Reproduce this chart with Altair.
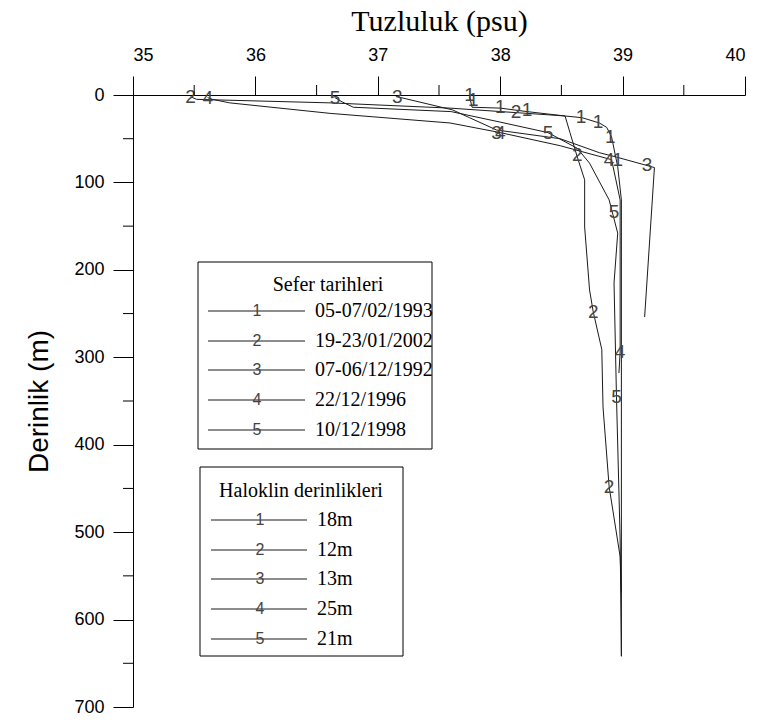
import altair as alt
import pandas as pd

# ---------------- data ----------------
profile_ids = ["1", "2", "3", "4", "5"]
cruise_dates = ["05-07/02/1993", "19-23/01/2002", "07-06/12/1992", "22/12/1996", "10/12/1998"]
halocline_depths = ["18m", "12m", "13m", "25m", "21m"]

p1_sal = [37.75, 37.77, 38.00, 38.22, 38.53, 38.67, 38.81, 38.87, 38.91, 38.96, 38.99, 38.99]
p1_dep = [2, 14, 15, 19, 24, 26, 32, 37, 48, 82, 120, 642]
p2_sal = [35.47, 35.52, 36.61, 37.59, 38.53, 38.57, 38.63, 38.69, 38.69, 38.73, 38.76, 38.83, 38.84, 38.89, 38.98, 38.99]
p2_dep = [2, 5, 9, 15, 24, 43, 71, 97, 151, 223, 248, 291, 357, 448, 528, 569]
p3_sal = [37.16, 37.61, 37.75, 37.97, 38.49, 38.81, 38.95, 39.26, 39.18]
p3_dep = [2, 17, 26, 40, 50, 66, 71, 83, 254]
p4_sal = [35.61, 35.65, 35.79, 36.61, 37.59, 38.00, 38.49, 38.91, 38.98, 38.98, 38.97]
p4_dep = [3, 5, 9, 21, 32, 43, 58, 74, 120, 294, 318]
p5_sal = [36.65, 36.71, 36.80, 37.60, 38.00, 38.39, 38.63, 38.73, 38.89, 38.96, 38.93, 38.95, 38.98, 38.99]
p5_dep = [3, 8, 14, 19, 31, 43, 61, 78, 120, 158, 215, 345, 509, 642]

# label (symbol) positions along each profile
l1_sal = [37.75, 37.78, 38.00, 38.22, 38.66, 38.80, 38.90, 38.96]
l1_dep = [0, 6, 14, 17, 25, 31, 48, 74]
l2_sal = [35.47, 38.13, 38.63, 38.76, 38.89]
l2_dep = [2, 19, 69, 248, 448]
l3_sal = [37.16, 37.97, 39.20]
l3_dep = [2, 43, 80]
l4_sal = [35.61, 38.00, 38.89, 38.98]
l4_dep = [3, 43, 74, 294]
l5_sal = [36.65, 38.39, 38.93, 38.95]
l5_dep = [3, 43, 134, 345]

x_major = [35, 36, 37, 38, 39, 40]
x_minor = [35.5, 36.5, 37.5, 38.5, 39.5]
y_major = [0, 100, 200, 300, 400, 500, 600, 700]
y_minor = [50, 150, 250, 350, 450, 550, 650]

# ---------------- tables ----------------
profiles = [(p1_sal, p1_dep), (p2_sal, p2_dep), (p3_sal, p3_dep), (p4_sal, p4_dep), (p5_sal, p5_dep)]
labels = [(l1_sal, l1_dep), (l2_sal, l2_dep), (l3_sal, l3_dep), (l4_sal, l4_dep), (l5_sal, l5_dep)]

rows = []
for pid, (s, d) in zip(profile_ids, profiles):
    for i, (sv, dv) in enumerate(zip(s, d)):
        rows.append({"profile": pid, "S": sv, "D": dv, "ord": i})
line_df = pd.DataFrame(rows)

lrows = []
for pid, (s, d) in zip(profile_ids, labels):
    for sv, dv in zip(s, d):
        lrows.append({"profile": pid, "S": sv, "D": dv})
lab_df = pd.DataFrame(lrows)

xminor_df = pd.DataFrame({"S": x_minor})
yminor_df = pd.DataFrame({"D": y_minor})

INK = "#1a1a1a"
DIGIT = "#444444"
DIGIT_FONT = "Liberation Sans"

x_scale = alt.Scale(domain=[35, 40], nice=False, zero=False)
y_scale = alt.Scale(domain=[0, 700], nice=False, zero=False, reverse=True)

x_axis = alt.Axis(
    orient="top", values=x_major, format="d", tickSize=19, labelPadding=12,
    title="Tuzluluk (psu)", titlePadding=10,
)
y_axis = alt.Axis(
    orient="left", values=y_major, format="d", tickSize=20, labelPadding=9,
    title="Derinlik (m)", titlePadding=20,
)

X = lambda: alt.X("S:Q", scale=x_scale, axis=x_axis, title="Tuzluluk (psu)")
Y = lambda: alt.Y("D:Q", scale=y_scale, axis=y_axis, title="Derinlik (m)")

lines = alt.Chart(line_df).mark_line(color=INK, strokeWidth=1).encode(
    x=X(), y=Y(), detail="profile:N", order="ord:Q",
)

digits = alt.Chart(lab_df).mark_text(
    font=DIGIT_FONT, fontSize=19, color=DIGIT, baseline="middle", align="center"
).encode(x=X(), y=Y(), text="profile:N")

xminor = alt.Chart(xminor_df).mark_rule(color="black", strokeWidth=1).encode(
    x=X(), y=alt.value(-10), y2=alt.value(0)
)
yminor = alt.Chart(yminor_df).mark_rule(color="black", strokeWidth=1).encode(
    y=Y(), x=alt.value(-10), x2=alt.value(0)
)

# ---------------- legends ----------------
def legend_block(title, entries, bx0, bx1, by0, by1, title_x, title_y, row_y, lx0, lx1, dx, tx):
    layers = []
    box_df = pd.DataFrame({"k": [0]})
    layers.append(
        alt.Chart(box_df).mark_rect(fill="white", stroke="black", strokeWidth=1).encode(
            x=alt.value(bx0), x2=alt.value(bx1), y=alt.value(by0), y2=alt.value(by1)
        )
    )
    layers.append(
        alt.Chart(pd.DataFrame({"t": [title]})).mark_text(
            font="Liberation Serif", fontSize=20, color="black", align="center", baseline="middle"
        ).encode(x=alt.value(title_x), y=alt.value(title_y), text="t:N")
    )
    for pid, txt, ry in zip(profile_ids, entries, row_y):
        layers.append(
            alt.Chart(pd.DataFrame({"p": [pid]})).mark_rule(color=INK, strokeWidth=1).encode(
                x=alt.value(lx0), x2=alt.value(lx1), y=alt.value(ry)
            )
        )
        layers.append(
            alt.Chart(pd.DataFrame({"p": [pid]})).mark_text(
                font=DIGIT_FONT, fontSize=16, color=DIGIT, align="center", baseline="middle"
            ).encode(x=alt.value(dx), y=alt.value(ry), text="p:N")
        )
        layers.append(
            alt.Chart(pd.DataFrame({"t": [txt]})).mark_text(
                font="Liberation Serif", fontSize=20, color="black", align="left", baseline="middle"
            ).encode(x=alt.value(tx), y=alt.value(ry), text="t:N")
        )
    return layers

leg1 = legend_block("Sefer tarihleri", cruise_dates, 65, 299, 167, 354, 195, 190,
                    [216, 246, 275, 305, 335], 75, 172, 124, 182)
leg2 = legend_block("Haloklin derinlikleri", halocline_depths, 67, 270, 372, 561, 168, 396,
                    [425, 455, 484, 514, 544], 78, 174, 127, 184)

chart = alt.layer(lines, digits, xminor, yminor, *leg1, *leg2).properties(
    width=612, height=612,
    autosize=alt.AutoSizeParams(type="none"),
    padding={"left": 133, "top": 95, "right": 14, "bottom": 14},
    background="white",
).configure_view(stroke=None).configure_axis(
    labelFont="Liberation Sans", labelFontSize=18, labelColor="black",
    titleFontWeight="normal", titleColor="black", domainColor="black", tickColor="black", grid=False,
).configure_axisX(
    titleFont="Liberation Serif", titleFontSize=30,
).configure_axisY(
    titleFont="Liberation Sans", titleFontSize=28,
)

chart.save("out.html", embed_options={"renderer": "svg", "actions": False})
